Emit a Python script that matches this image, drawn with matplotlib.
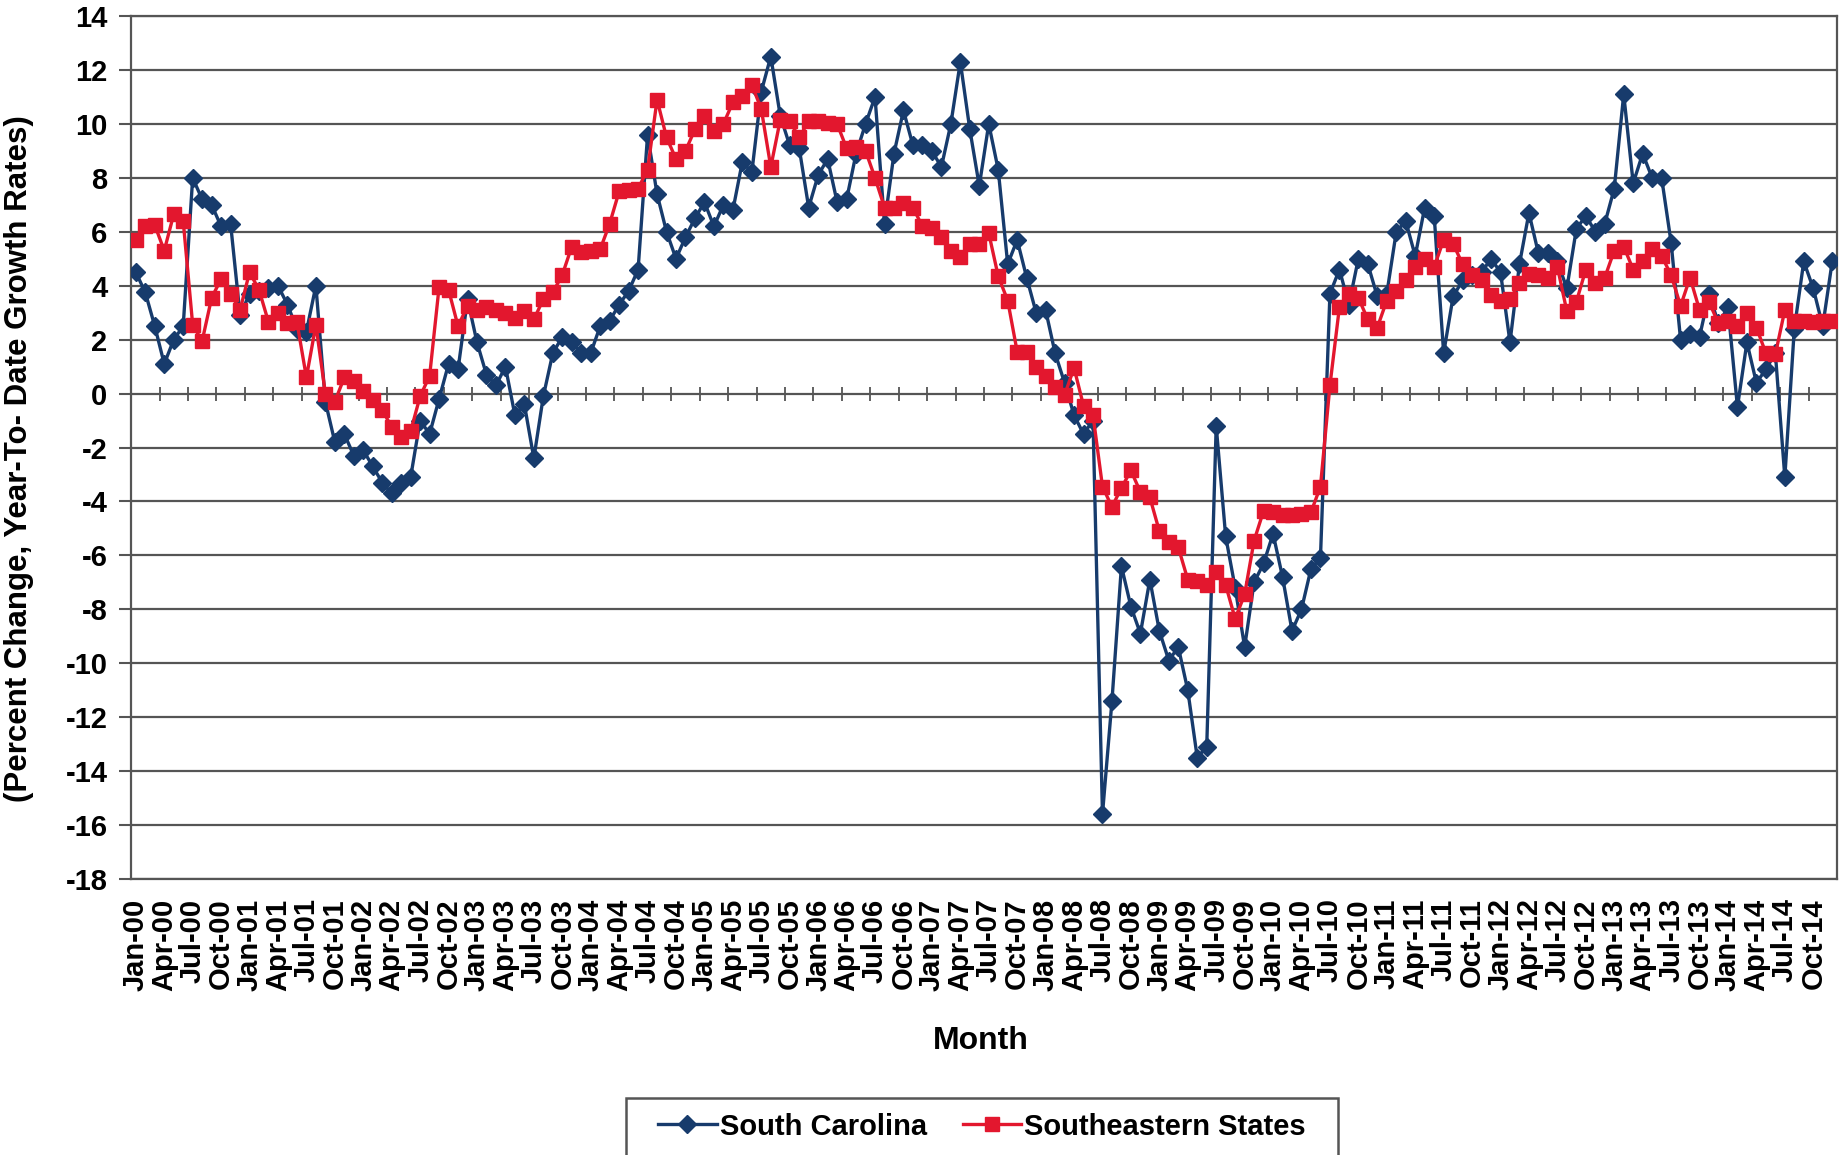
import matplotlib
matplotlib.use("Agg")
import matplotlib.pyplot as plt
from matplotlib.patches import Rectangle
import numpy as np
import pandas as pd

plt.rcParams['font.family'] = ['Liberation Sans', 'DejaVu Sans']
plt.rcParams['axes.unicode_minus'] = False

# monthly categories Jan-00 .. Dec-14
months = pd.date_range('2000-01-01', periods=180, freq='MS').strftime('%b-%y').tolist()

south_carolina = [
    4.5, 3.75, 2.5, 1.1, 2.0, 2.5, 8.0, 7.2, 7.0, 6.2, 6.3, 2.9,
    3.7, 3.8, 3.9, 4.0, 3.3, 2.4, 2.3, 4.0, -0.3, -1.8, -1.5, -2.3,
    -2.1, -2.7, -3.3, -3.7, -3.3, -3.1, -1.0, -1.5, -0.2, 1.1, 0.9, 3.5,
    1.9, 0.7, 0.3, 1.0, -0.8, -0.4, -2.4, -0.1, 1.5, 2.1, 1.9, 1.5,
    1.5, 2.5, 2.7, 3.3, 3.8, 4.6, 9.6, 7.4, 6.0, 5.0, 5.8, 6.5,
    7.1, 6.2, 7.0, 6.8, 8.6, 8.2, 11.2, 12.5, 10.3, 9.2, 9.1, 6.9,
    8.1, 8.7, 7.1, 7.2, 8.9, 10.0, 11.0, 6.3, 8.9, 10.5, 9.2, 9.2,
    9.0, 8.4, 10.0, 12.3, 9.8, 7.7, 10.0, 8.3, 4.8, 5.7, 4.3, 3.0,
    3.1, 1.5, 0.4, -0.8, -1.5, -1.0, -15.6, -11.4, -6.4, -7.9, -8.9, -6.9,
    -8.8, -9.9, -9.4, -11.0, -13.5, -13.1, -1.2, -5.3, -7.2, -9.4, -7.0, -6.3,
    -5.2, -6.8, -8.8, -8.0, -6.5, -6.1, 3.7, 4.6, 3.3, 5.0, 4.8, 3.6,
    3.7, 6.0, 6.4, 5.1, 6.9, 6.6, 1.5, 3.6, 4.2, 4.4, 4.5, 5.0,
    4.5, 1.9, 4.8, 6.7, 5.2, 5.2, 4.9, 3.9, 6.1, 6.6, 6.0, 6.3,
    7.6, 11.1, 7.8, 8.9, 8.0, 8.0, 5.6, 2.0, 2.2, 2.1, 3.7, 2.6,
    3.2, -0.5, 1.9, 0.4, 0.9, 1.5, -3.1, 2.4, 4.9, 3.9, 2.5, 4.9,
]

southeastern = [
    5.7, 6.2, 6.25, 5.3, 6.65, 6.4, 2.55, 1.95, 3.55, 4.25, 3.7, 3.1,
    4.5, 3.85, 2.65, 3.0, 2.6, 2.65, 0.6, 2.55, 0.0, -0.3, 0.6, 0.45,
    0.1, -0.25, -0.6, -1.25, -1.6, -1.4, -0.1, 0.65, 3.95, 3.85, 2.5, 3.25,
    3.1, 3.2, 3.1, 3.0, 2.8, 3.05, 2.75, 3.5, 3.75, 4.4, 5.45, 5.25,
    5.3, 5.35, 6.3, 7.5, 7.55, 7.6, 8.3, 10.9, 9.5, 8.7, 9.0, 9.8,
    10.3, 9.75, 10.0, 10.8, 11.05, 11.45, 10.55, 8.4, 10.15, 10.1, 9.5, 10.1,
    10.1, 10.05, 10.0, 9.1, 9.15, 9.0, 8.0, 6.9, 6.9, 7.05, 6.9, 6.2,
    6.15, 5.8, 5.3, 5.05, 5.55, 5.55, 5.95, 4.35, 3.45, 1.55, 1.55, 1.0,
    0.65, 0.25, -0.05, 0.95, -0.45, -0.8, -3.45, -4.2, -3.5, -2.85, -3.65, -3.85,
    -5.1, -5.5, -5.7, -6.9, -6.95, -7.1, -6.6, -7.1, -8.35, -7.45, -5.45, -4.35,
    -4.4, -4.5, -4.5, -4.45, -4.4, -3.45, 0.3, 3.2, 3.7, 3.55, 2.75, 2.45,
    3.45, 3.8, 4.2, 4.7, 5.0, 4.7, 5.7, 5.55, 4.8, 4.4, 4.2, 3.65,
    3.45, 3.5, 4.1, 4.45, 4.4, 4.3, 4.7, 3.05, 3.4, 4.6, 4.1, 4.3,
    5.3, 5.45, 4.6, 4.9, 5.35, 5.1, 4.4, 3.25, 4.3, 3.1, 3.4, 2.6,
    2.7, 2.5, 3.0, 2.45, 1.5, 1.45, 3.1, 2.7, 2.7, 2.65, 2.7, 2.7,
]

y_ticks = list(range(-18, 15, 2))

blue = '#173B6C'
red = '#E3172E'
grid_col = '#555555'

fig = plt.figure(figsize=(18.41, 11.55), dpi=100)
ax = fig.add_axes([0.0712, 0.2390, 0.9266, 0.7471])

x = np.arange(len(months))
ax.plot(x, south_carolina, color=blue, lw=2.4, marker='D', ms=9.5,
        mec=blue, mfc=blue, label='South Carolina', zorder=3)
ax.plot(x, southeastern, color=red, lw=2.4, marker='s', ms=10,
        mec=red, mfc=red, label='Southeastern States', zorder=4)

ax.set_xlim(-0.5, len(months) - 0.5)
ax.set_ylim(-18, 14)
ax.set_yticks(y_ticks)
ax.set_yticklabels([str(v) for v in y_ticks])
ax.yaxis.grid(True, color=grid_col, lw=1.6)
ax.set_axisbelow(True)

ax.set_xticks(x[::3])
ax.set_xticklabels(months[::3], rotation=90)
ax.tick_params(axis='x', length=0, pad=14, labelsize=21)
ax.tick_params(axis='y', length=9, width=1.5, color=grid_col, pad=8, labelsize=21)
for lab in ax.get_xticklabels() + ax.get_yticklabels():
    lab.set_fontweight('bold')

for s in ax.spines.values():
    s.set_color(grid_col)
    s.set_linewidth(1.6)

# category axis drawn through zero, with tick marks between every 3rd month
zero_ax = ax.secondary_xaxis(18 / 32)
zero_ax.set_xticks(np.arange(2.5, len(months) - 1, 3))
zero_ax.tick_params(axis='x', direction='inout', length=10, width=1.3,
                    color=grid_col, labelbottom=False, labeltop=False)
zero_ax.spines['bottom'].set_color(grid_col)
zero_ax.spines['bottom'].set_linewidth(1.6)
zero_ax.spines['top'].set_visible(False)

fig.text(0.0105, 0.603, '(Percent Change, Year-To- Date Growth Rates)',
         rotation=90, ha='center', va='center', fontsize=22.5, fontweight='bold')
fig.text(0.533, 0.099, 'Month', ha='center', va='center',
         fontsize=23, fontweight='bold')

# legend box below the chart
fig.patches.append(Rectangle((626 / 1841, -0.02), (1338 - 626) / 1841, 0.02 + 57 / 1155,
                             transform=fig.transFigure, fill=False,
                             edgecolor=grid_col, lw=1.8))
leg = fig.legend(loc='center', bbox_to_anchor=(0.5335, 0.0245), ncol=2,
                 fontsize=21, frameon=False, handlelength=2.0,
                 handletextpad=0.1, columnspacing=1.25)
for t in leg.get_texts():
    t.set_fontweight('bold')

fig.savefig('out.png', dpi=100)
